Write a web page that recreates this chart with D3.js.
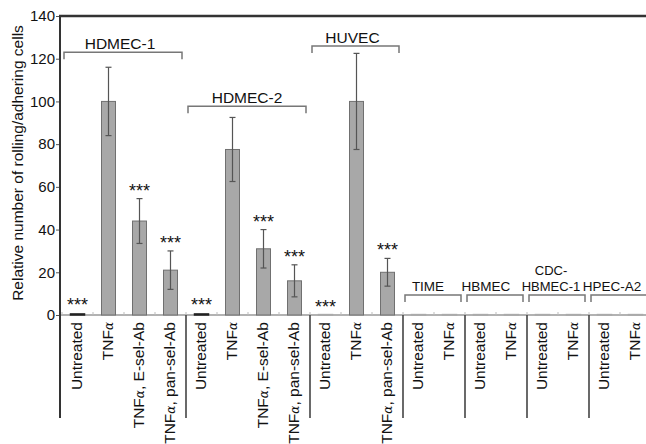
<!DOCTYPE html>
<html lang="en">
<head>
    <meta charset="UTF-8">
    <title>Rolling/adhering cells</title>
    <script src="https://cdn.jsdelivr.net/npm/d3@7/dist/d3.min.js"></script>
    <style>
        body { margin: 0; background: #fff; }
        text { font-family: "Liberation Sans", Arial, sans-serif; }
    </style>
</head>
<body>
<script type="text/javascript">
    // categories along the x axis, one per bar
    var categories = [
        'Untreated', 'TNFα', 'TNFα,  E-sel-Ab', 'TNFα, pan-sel-Ab',
        'Untreated', 'TNFα', 'TNFα,  E-sel-Ab', 'TNFα, pan-sel-Ab',
        'Untreated', 'TNFα', 'TNFα, pan-sel-Ab',
        'Untreated', 'TNFα',
        'Untreated', 'TNFα',
        'Untreated', 'TNFα',
        'Untreated', 'TNFα'
    ];
    var groups = ['HDMEC-1', 'HDMEC-2', 'HUVEC', 'TIME', 'HBMEC', 'CDC-|HBMEC-1', 'HPEC-A2'];
    var groupOf = [0, 0, 0, 0, 1, 1, 1, 1, 2, 2, 2, 3, 3, 4, 4, 5, 5, 6, 6];
    var means = [0.5, 100, 44, 21, 0.5, 77.5, 31, 16, 0.2, 100, 20, 0.2, 0.2, 0.2, 0.2, 0.2, 0.2, 0.2, 0.2];
    var errors = [0.4, 16, 10.5, 9, 0.4, 15, 9, 7.5, 0, 22.5, 6.5, 0, 0, 0, 0, 0, 0, 0, 0];
    var significant = [1, 0, 1, 1, 1, 0, 1, 1, 1, 0, 1, 0, 0, 0, 0, 0, 0, 0, 0];
    var yTicks = [0, 20, 40, 60, 80, 100, 120, 140];

    // layout of the group brackets (in y units) and label nudges
    var bracketLevel = [123, 97.8, 125.9, 9.4, 9.4, 9.4, 9.4];
    var labelShift = [-3, 0, -3, -5, -9, -6, -7];
    var labelSize = [15.5, 15.5, 15.5, 13.5, 13.5, 13, 13.5];

    var width = 646;
    var height = 444;
    var svg = d3.select('body').append('svg')
            .attr('width', width)
            .attr('height', height);

    var rows = means.map(function (m, i) {
        return {i: i, mean: m, err: errors[i], sig: significant[i], label: categories[i]};
    });

    var x = d3.scaleBand()
            .domain(d3.range(categories.length))
            .range([62, 651]);
    var y = d3.scaleLinear()
            .domain([0, 140])
            .range([315, 16]);
    var barW = 14;
    var cx = function (i) { return x(i) + x.bandwidth() / 2; };

    // y axis
    var yAxis = d3.axisLeft(y).tickValues(yTicks).tickSize(0).tickPadding(5);
    var ag = svg.append('g').attr('transform', 'translate(60,0)').call(yAxis);
    ag.select('.domain').remove();
    ag.selectAll('text').attr('font-size', '15px').attr('fill', '#111')
            .style('font-family', '"Liberation Sans", Arial, sans-serif');
    ag.selectAll('.tick').append('line')
            .attr('x1', -4).attr('x2', 0).attr('stroke', '#555').attr('stroke-width', 1);

    svg.append('text')
            .attr('transform', 'translate(23,163) rotate(-90)')
            .attr('text-anchor', 'middle')
            .attr('font-size', '15.5px')
            .attr('fill', '#111')
            .text('Relative number of rolling/adhering cells');

    // x axis baseline with small ticks
    svg.append('line')
            .attr('x1', 60).attr('x2', width)
            .attr('y1', y(0)).attr('y2', y(0))
            .attr('stroke', '#999').attr('stroke-width', 1.5);
    svg.selectAll('line.xtick')
            .data(rows)
            .enter()
            .append('line')
            .attr('class', 'xtick')
            .attr('x1', function (d) { return x(d.i); })
            .attr('x2', function (d) { return x(d.i); })
            .attr('y1', y(0) - 3).attr('y2', y(0))
            .attr('stroke', '#bbb');

    // bars
    svg.selectAll('rect.bar')
            .data(rows)
            .enter()
            .append('rect')
            .attr('class', 'bar')
            .attr('x', function (d) { return cx(d.i) - barW / 2; })
            .attr('y', function (d) { return y(d.mean); })
            .attr('width', barW)
            .attr('height', function (d) { return y(0) - y(d.mean); })
            .attr('fill', '#a8a8a8')
            .attr('stroke', function (d) { return d.mean < 1 ? (d.err > 0 ? '#222' : '#aaa') : '#707070'; })
            .attr('stroke-width', function (d) { return d.mean < 1 ? 1.5 : 1; });

    // error bars
    var eg = svg.selectAll('g.err')
            .data(rows.filter(function (d) { return d.err > 1; }))
            .enter()
            .append('g')
            .attr('class', 'err')
            .attr('stroke', '#555')
            .attr('stroke-width', 1.2);
    eg.append('line')
            .attr('x1', function (d) { return cx(d.i); })
            .attr('x2', function (d) { return cx(d.i); })
            .attr('y1', function (d) { return y(d.mean + d.err); })
            .attr('y2', function (d) { return y(d.mean - d.err); });
    eg.selectAll('line.cap')
            .data(function (d) { return [[d.i, d.mean + d.err], [d.i, d.mean - d.err]]; })
            .enter()
            .append('line')
            .attr('class', 'cap')
            .attr('x1', function (d) { return cx(d[0]) - 3; })
            .attr('x2', function (d) { return cx(d[0]) + 3; })
            .attr('y1', function (d) { return y(d[1]); })
            .attr('y2', function (d) { return y(d[1]); });

    // significance stars
    svg.selectAll('text.sig')
            .data(rows.filter(function (d) { return d.sig; }))
            .enter()
            .append('text')
            .attr('class', 'sig')
            .attr('x', function (d) { return cx(d.i); })
            .attr('y', function (d) { return y(d.mean + d.err) - 2; })
            .attr('text-anchor', 'middle')
            .attr('font-size', '18px')
            .attr('fill', '#111')
            .text('***');

    // category labels
    var lab = svg.selectAll('text.cat')
            .data(rows)
            .enter()
            .append('text')
            .attr('class', 'cat')
            .attr('transform', function (d) {
                return 'translate(' + (cx(d.i) - 1) + ',' + (y(0) + 7) + ') rotate(-90)';
            })
            .attr('text-anchor', 'end')
            .attr('dy', '0.35em')
            .attr('font-size', '15.5px')
            .attr('fill', '#111');
    lab.each(function (d) {
        var t = d3.select(this);
        d.label.split(/(α)/).forEach(function (part) {
            if (!part) return;
            var s = t.append('tspan').text(part);
            if (part === 'α') {
                s.attr('font-style', 'italic')
                        .style('font-family', '"DejaVu Serif", serif')
                        .attr('font-size', '12px');
            }
        });
    });

    // group brackets, labels and separators
    groups.forEach(function (name, g) {
        var idx = d3.range(categories.length).filter(function (i) { return groupOf[i] === g; });
        var left = x(idx[0]);
        var right = x(idx[idx.length - 1]) + x.bandwidth();
        var by = y(bracketLevel[g]);
        var x0 = left + 2, x1 = right - 4;
        svg.append('path')
                .attr('d', 'M' + x0 + ',' + (by + 7) + 'V' + by + 'H' + x1 + 'V' + (by + 7))
                .attr('fill', 'none')
                .attr('stroke', '#777')
                .attr('stroke-width', 1.5);
        var lines = name.split('|');
        var mid = (x0 + x1) / 2 + labelShift[g];
        lines.forEach(function (ln, k) {
            svg.append('text')
                    .attr('x', mid)
                    .attr('y', by - 3.5 - (lines.length - 1 - k) * 16)
                    .attr('text-anchor', 'middle')
                    .attr('font-size', labelSize[g] + 'px')
                    .attr('fill', '#111')
                    .text(ln);
        });
        if (g < groups.length - 1) {
            svg.append('line')
                    .attr('x1', right).attr('x2', right)
                    .attr('y1', y(0)).attr('y2', 418)
                    .attr('stroke', '#444')
                    .attr('stroke-width', 1.6);
        }
    });

    // frame: left axis and top border
    svg.append('line')
            .attr('x1', 60).attr('x2', 60)
            .attr('y1', 15).attr('y2', 418)
            .attr('stroke', '#333').attr('stroke-width', 2);
    svg.append('line')
            .attr('x1', 59).attr('x2', width)
            .attr('y1', 16).attr('y2', 16)
            .attr('stroke', '#333').attr('stroke-width', 2.5);
</script>
</body>
</html>
